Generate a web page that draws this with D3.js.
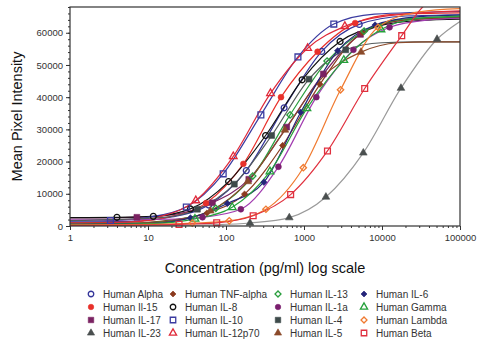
<!DOCTYPE html>
<html><head><meta charset="utf-8">
<script src="https://cdn.jsdelivr.net/npm/d3@7"></script>
<style>body{margin:0;background:#fff}svg{display:block}text{font-family:"Liberation Sans",Arial,sans-serif}</style>
</head><body><svg id="c" width="480" height="344"></svg>
<script>
// data: [concentration pg/ml, mean pixel intensity, marker?]
const humanAlpha   = [[1,1200],[6.7,1500],[20,2800],[60,6500,1],[182,17200,1],[556,36700,1],[1690,54200,1],[5100,62600,1],[20000,65200],[100000,65600]];
const humanIl15    = [[1,1000],[6.2,1300],[18.5,2800],[55.5,7100,1],[167,19300,1],[507,40000,1],[1494,54100,1],[4530,63000,1],[15000,65800],[100000,66200]];
const humanIl17    = [[1,2500],[7.2,2700,1],[22,3600],[67,7200,1],[196,14500,1],[600,30700,1],[1770,47200,1],[5300,59500,1],[20000,64000],[100000,64800]];
const humanIl23    = [[1,100],[22,150],[67,350],[203,930,1],[648,2600,1],[1910,9000,1],[5760,22700,1],[17500,42800,1],[50800,58000,1],[100000,63500]];
const humanTnf     = [[1,800],[6.3,900],[19,1800],[57,4000,1],[173,9900,1],[533,25000,1],[1600,44000,1],[5560,60000,1],[20000,64000],[100000,64600]];
const humanIl8     = [[1,2600],[4,2700,1],[11.7,3000,1],[35,5300,1],[108,13800,1],[322,28100,1],[946,45400,1],[2900,57300,1],[8700,62000],[30000,63800],[100000,64200]];
const humanIl10    = [[1,1500],[3.3,1700,1],[10,2700],[31,5900,1],[92,16200,1],[280,34500,1],[836,52500,1],[2410,62700,1],[8000,65800],[100000,66600]];
const humanIl12p70 = [[1,800],[4.6,1000],[13.7,2800],[41,7900,1],[124,21600,1],[372,41200,1],[1114,55200,1],[3340,62000,1],[10000,65000],[100000,66800]];
const humanIl13    = [[1,600],[8,900],[24,2000],[74,5500,1],[220,15500,1],[663,34500,1],[1977,51200,1],[5900,60500,1],[20000,64300],[100000,65000]];
const humanIl1a    = [[1,1900],[17,2100],[50,2700,1],[155,5200,1],[470,18400,1],[1440,40000,1],[4300,54700,1],[12500,61700,1],[40000,64000],[100000,64500]];
const humanIl4     = [[1,1700],[14.4,2600],[43,5200,1],[128,13000,1],[385,28100,1],[1160,45600,1],[3430,54700,1],[10000,56900],[30000,57200],[100000,57200]];
const humanIl5     = [[1,400],[7,800],[21,1700],[63,4700,1],[190,13800,1],[570,29800,1],[1700,46000],[5380,54000,1],[16000,56900],[40000,57200],[100000,57200]];
const humanIl6     = [[1,500],[11.5,800],[35,2500,1],[104,7000,1],[306,13600,1],[908,35300,1],[2700,54400,1],[8150,62400,1],[30000,65000],[100000,65500]];
const humanGamma   = [[1,400],[13,800],[40,2200,1],[120,5800,1],[366,16900,1],[1090,36500,1],[3240,51500,1],[9700,61000,1],[30000,64500],[100000,65200]];
const humanLambda  = [[1,300],[12,500],[37,900,1],[110,1600,1],[325,5200,1],[980,18100,1],[2940,42300,1],[8900,61700,1],[30000,66500],[100000,67500]];
const humanBeta    = [[1,200],[8.4,300],[25,500,1],[76,1000,1],[223,3200,1],[674,9750,1],[2000,23300,1],[6000,42700,1],[17900,59100,1],[35000,68500],[100000,73000]];

const seriesNames = ["Human Alpha","Human Il-15","Human IL-17","Human IL-23",
  "Human TNF-alpha","Human IL-8","Human IL-10","Human IL-12p70",
  "Human IL-13","Human IL-1a","Human IL-4","Human IL-5",
  "Human IL-6","Human Gamma","Human Lambda","Human Beta"];
const seriesData = [humanAlpha,humanIl15,humanIl17,humanIl23,humanTnf,humanIl8,humanIl10,humanIl12p70,
  humanIl13,humanIl1a,humanIl4,humanIl5,humanIl6,humanGamma,humanLambda,humanBeta];
const yTicks = [0,10000,20000,30000,40000,50000,60000];
const xTicks = [1,10,100,1000,10000,100000];

// styles
const styles = [
  {line:"#34359a",mark:"#34359a",sym:"circle",fill:false},
  {line:"#e8302a",mark:"#e8302a",sym:"circle",fill:true},
  {line:"#7a2262",mark:"#7a2262",sym:"square",fill:true},
  {line:"#9a9a9a",mark:"#4a4f4f",sym:"triangle",fill:true},
  {line:"#8b3a1e",mark:"#8b3a1e",sym:"diamond",fill:true},
  {line:"#111111",mark:"#111111",sym:"circle",fill:false},
  {line:"#3b3ba0",mark:"#3b3ba0",sym:"square",fill:false},
  {line:"#e02a3a",mark:"#e02a3a",sym:"triangle",fill:false},
  {line:"#2a9e3e",mark:"#2a9e3e",sym:"diamond",fill:false},
  {line:"#a23cb0",mark:"#7a1f6e",sym:"circle",fill:true},
  {line:"#555c5c",mark:"#3d4a4a",sym:"square",fill:true},
  {line:"#8b4a2a",mark:"#8b4a2a",sym:"triangle",fill:true},
  {line:"#25257a",mark:"#25257a",sym:"diamond",fill:true},
  {line:"#24a03a",mark:"#24a03a",sym:"triangle",fill:false},
  {line:"#f07a30",mark:"#f07a30",sym:"diamond",fill:false},
  {line:"#e0303e",mark:"#e0303e",sym:"square",fill:false}
];

const svg = d3.select("#c");
const L=70,R=460,T=7,B=226;
const x = d3.scaleLog().domain([1,100000]).range([L,R]);
const y = d3.scaleLinear().domain([0,68000]).range([B,T]);

svg.append("defs").append("clipPath").attr("id","clip")
  .append("rect").attr("x",L).attr("y",T).attr("width",R-L).attr("height",B-T);

function symPath(sym, size){
  if(sym==="circle") return d3.symbol(d3.symbolCircle, size*0.8)();
  if(sym==="square") return d3.symbol(d3.symbolSquare, size)();
  if(sym==="triangle") return d3.symbol(d3.symbolTriangle, size*0.75)();
  if(sym==="diamond") return d3.symbol(d3.symbolSquare, size*0.6)();
}
function drawMark(g, st, px, py, size){
  g.append("path").attr("d",symPath(st.sym,size))
    .attr("transform",`translate(${px},${py})`+(st.sym==="diamond"?" rotate(45)":""))
    .attr("fill",st.fill?st.mark:"none")
    .attr("stroke",st.mark).attr("stroke-width",st.fill?0.6:1.3);
}

// axes
const yAxis = svg.append("g").attr("transform",`translate(${L},0)`)
  .call(d3.axisLeft(y).tickValues(yTicks).tickFormat(d3.format("d")).tickSize(4).tickPadding(3));
yAxis.select(".domain").remove();
yAxis.selectAll("text").attr("font-size",9.5).attr("fill","#333");
yAxis.selectAll("line").attr("stroke","#333");
svg.append("g").attr("transform",`translate(${L},0)`)
  .call(d3.axisLeft(y).tickValues(d3.range(0,68001,2000)).tickFormat("").tickSize(2))
  .call(g=>g.select(".domain").remove()).selectAll("line").attr("stroke","#333");

const minorX=[];
for(let d=1;d<100000;d*=10) for(let k=2;k<10;k++) minorX.push(d*k);
const xAxis = svg.append("g").attr("transform",`translate(0,${B})`)
  .call(d3.axisBottom(x).tickValues(xTicks).tickFormat(d3.format("d")).tickSize(4).tickPadding(4));
xAxis.select(".domain").remove();
xAxis.selectAll("text").attr("font-size",9.5).attr("fill","#333");
xAxis.selectAll("line").attr("stroke","#333");
svg.append("g").attr("transform",`translate(0,${B})`)
  .call(d3.axisBottom(x).tickValues(minorX).tickFormat("").tickSize(2))
  .call(g=>g.select(".domain").remove()).selectAll("line").attr("stroke","#333");

// lines
const lineGen = d3.line().x(d=>x(d[0])).y(d=>y(d[1])).curve(d3.curveMonotoneX);
const plot = svg.append("g").attr("clip-path","url(#clip)");
seriesData.forEach((data,i)=>{
  plot.append("path").datum(data).attr("d",lineGen)
    .attr("fill","none").attr("stroke",styles[i].line).attr("stroke-width",1.2);
});
const mk = svg.append("g");
seriesData.forEach((data,i)=>{
  data.filter(d=>d[2]).forEach(d=>drawMark(mk, styles[i], x(d[0]), y(d[1]), 34));
});

// frame
svg.append("rect").attr("x",L).attr("y",T).attr("width",R-L).attr("height",B-T)
  .attr("fill","none").attr("stroke","#333").attr("stroke-width",1.2);

// titles
svg.append("text").attr("transform",`translate(22,${(T+B)/2}) rotate(-90)`)
  .attr("text-anchor","middle").attr("font-size",14.5).attr("fill","#111").text("Mean Pixel Intensity");
svg.append("text").attr("x",(L+R)/2).attr("y",273)
  .attr("text-anchor","middle").attr("font-size",14.5).attr("fill","#111").text("Concentration (pg/ml) log scale");

// legend
const colX=[91,173,278,364], rowY=[294,307,320,333];
const lg = svg.append("g");
seriesNames.forEach((name,i)=>{
  const c=Math.floor(i/4), r=i%4;
  drawMark(lg, styles[i], colX[c], rowY[r], 30);
  lg.append("text").attr("x",colX[c]+12).attr("y",rowY[r]+3.5)
    .attr("font-size",10).attr("fill","#333").text(name);
});
</script></body></html>
